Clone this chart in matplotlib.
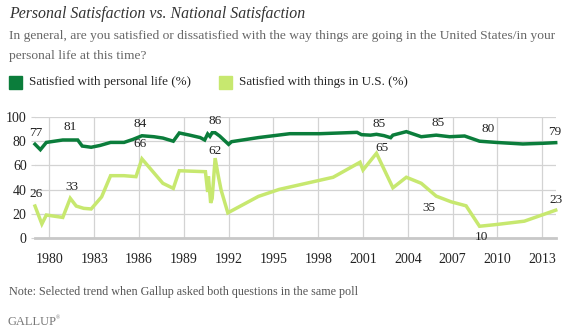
import matplotlib
matplotlib.use("Agg")
import matplotlib.pyplot as plt
from matplotlib.patches import Rectangle

# data
personal_years = [1979.04, 1979.4, 1979.8, 1980.9, 1981.9, 1982.2, 1982.8, 1983.4, 1984.1, 1985.0,
                  1985.6, 1986.2, 1987.0, 1987.6, 1988.3, 1988.7, 1989.4, 1990.1, 1990.4, 1990.6,
                  1990.75, 1990.9, 1991.1, 1991.4, 1992.0, 1992.2, 1994.0, 1996.1, 1998.1, 2000.6,
                  2000.9, 2001.5, 2001.9, 2002.4, 2002.85, 2003.0, 2003.9, 2004.9, 2005.9, 2006.8,
                  2007.8, 2008.8, 2009.9, 2011.7, 2013.1, 2013.9]
personal = [77.5, 73, 79, 81, 81, 76, 75, 76.5, 79, 79,
            81.5, 84.5, 83.7, 82.6, 80, 86.8, 85, 83, 81, 86,
            84, 87, 87, 84.3, 77.4, 79.6, 83, 86.2, 86.2, 87.3,
            85.4, 85, 85.7, 84.6, 82.9, 85, 87.9, 83.7, 85, 83.7,
            84.3, 80, 79, 77.7, 78.3, 78.8]

us_years = [1979.04, 1979.5, 1979.8, 1980.9, 1981.4, 1981.8, 1982.3, 1982.8, 1983.5, 1984.1,
            1985.0, 1985.8, 1986.2, 1987.6, 1988.3, 1988.7, 1990.0, 1990.45, 1990.6, 1990.65,
            1990.8, 1990.9, 1991.1, 1991.3, 1991.5, 1991.95, 1994.0, 1995.4, 1999.0, 2000.8,
            2001.0, 2001.9, 2003.0, 2003.9, 2004.9, 2005.9, 2006.9, 2007.9, 2008.8, 2009.9,
            2011.8, 2013.9]
us = [26.4, 11.6, 19, 17, 32.8, 26.4, 24.5, 24, 34, 51.5,
      51.5, 50.7, 65.4, 45.2, 41, 55.6, 55, 54.8, 38, 51,
      29, 32.7, 66, 52, 39.6, 20.8, 34.4, 40.2, 50.2, 62.6,
      56.2, 70, 41.5, 50.2, 45.2, 34.6, 29.9, 26.6, 9.7, 11.1,
      13.9, 23]

# value labels: (text, year, y)
labels = [("77", 1979.1, 86.9), ("81", 1981.4, 91.9), ("84", 1986.1, 94.4), ("86", 1991.1, 96.8),
          ("85", 2002.1, 94.4), ("85", 2006.0, 95.3), ("80", 2009.4, 90.3), ("79", 2013.85, 87.8),
          ("26", 1979.1, 36.3), ("33", 1981.5, 42), ("66", 1986.1, 77.8), ("62", 1991.1, 72),
          ("65", 2002.3, 74.2), ("35", 2005.4, 24.7), ("10", 2008.9, 1.0), ("23", 2013.9, 31.7)]

year_ticks = [1980, 1983, 1986, 1989, 1992, 1995, 1998, 2001, 2004, 2007, 2010, 2013]
value_ticks = [0, 20, 40, 60, 80, 100]

dark_green = "#0b7d3b"
light_green = "#c7e86f"
serif = "Liberation Serif"

fig = plt.figure(figsize=(5.64, 3.34), dpi=100)
ax = fig.add_axes([35 / 564, 1 - 238 / 334, 521 / 564, 121 / 334])

ax.plot(personal_years, personal, color=dark_green, lw=2.5, solid_joinstyle="miter", zorder=3, clip_on=False)
ax.plot(us_years, us, color=light_green, lw=2.5, solid_joinstyle="miter", zorder=3, clip_on=False)

for txt, x, y in labels:
    ax.text(x, y, txt, ha="center", va="center", fontsize=9.5, family=serif, color="#222222", zorder=4)

ax.set_xlim(1979.04, 2013.92)
ax.set_ylim(0, 100)
ax.set_xticks(year_ticks)
ax.set_yticks(value_ticks)
ax.set_xticklabels([str(y) for y in year_ticks], family=serif, fontsize=10, color="#222222")
ax.set_yticklabels([str(v) for v in value_ticks], family=serif, fontsize=10, color="#222222")
ax.grid(True, color="#d3d3d3", lw=0.9)
ax.set_axisbelow(True)
ax.tick_params(axis="x", length=0, pad=11)
ax.tick_params(axis="y", length=3, color="#d3d3d3", pad=3)
for s in ["top", "right", "left"]:
    ax.spines[s].set_visible(False)
ax.spines["bottom"].set_color("#c8c8c8")
ax.spines["bottom"].set_linewidth(2)

# header texts
fig.text(9 / 564, 1 - 14 / 334, "Personal Satisfaction vs. National Satisfaction", family=serif,
         style="italic", fontsize=11.4, color="#333333", va="center")
fig.text(9 / 564, 1 - 36 / 334, "In general, are you satisfied or dissatisfied with the way things are going in the United States/in your",
         family=serif, fontsize=9.7, color="#666666", va="center")
fig.text(9 / 564, 1 - 56 / 334, "personal life at this time?", family=serif, fontsize=9.7, color="#666666", va="center")

fig.patches.append(Rectangle((9 / 564, 1 - 89 / 334), 13 / 564, 13 / 334, transform=fig.transFigure,
                             color=dark_green, figure=fig))
fig.text(29 / 564, 1 - 82.5 / 334, "Satisfied with personal life (%)", family=serif, fontsize=9.4,
         color="#222222", va="center")
fig.patches.append(Rectangle((219 / 564, 1 - 89 / 334), 13 / 564, 13 / 334, transform=fig.transFigure,
                             color=light_green, figure=fig))
fig.text(239 / 564, 1 - 82.5 / 334, "Satisfied with things in U.S. (%)", family=serif, fontsize=9.4,
         color="#222222", va="center")

fig.text(9 / 564, 1 - 292 / 334, "Note: Selected trend when Gallup asked both questions in the same poll",
         family=serif, fontsize=8.7, color="#555555", va="center")
fig.text(7 / 564, 1 - 322 / 334, "GALLUP", family=serif, fontsize=9, color="#777777", va="center")
fig.text(56 / 564, 1 - 318 / 334, "®", family=serif, fontsize=4, color="#777777", va="center")

fig.savefig("out.png", dpi=100)
